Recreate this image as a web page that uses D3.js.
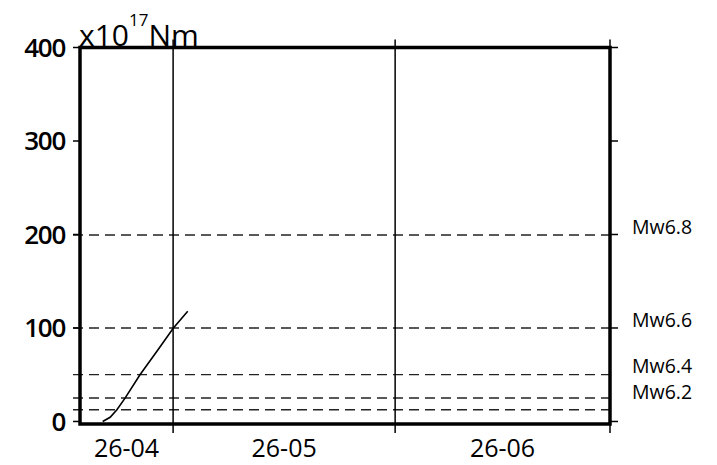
<!DOCTYPE html>
<html>
<head>
<meta charset="utf-8">
<script src="https://cdn.jsdelivr.net/npm/d3@7"></script>
<style>
  html, body { margin: 0; padding: 0; background: #fff; }
  svg { display: block; font-family: "Open Sans", "Noto Sans", sans-serif; }
</style>
</head>
<body>
<svg id="chart" width="717" height="465"></svg>
<script>
// Cumulative seismic moment (x10^17 Nm) over time
const dates = ["2026-04-21T04:00", "2026-04-22T05:00", "2026-04-23T03:00", "2026-04-24T07:00",
               "2026-04-26T09:00", "2026-04-28T22:00", "2026-05-01T01:00", "2026-05-03T01:00"];
const moment = [0, 4.5, 12.3, 25, 50, 77, 100, 118];

// Reference magnitude levels (Mw) drawn as dashed lines
const magnitudes = [6.0, 6.2, 6.4, 6.6, 6.8];
const labelledMagnitudes = [6.2, 6.4, 6.6, 6.8];

const yTicks = [0, 100, 200, 300, 400];
const timeDomain = ["2026-04-18T00:00", "2026-07-01T00:00"];

const parse = d3.isoParse;
const svg = d3.select("#chart");
const mLeft = 80, mRight = 610, mTop = 47.5, mBottom = 424;

const x = d3.scaleTime().domain(timeDomain.map(parse)).range([mLeft, mRight]);
const y = d3.scaleLinear().domain([-2.7, 400]).range([mBottom, mTop]);

// Moment (x10^17 Nm) for a moment magnitude Mw
const momentOf = mw => Math.pow(10, 1.5 * mw + 9.1) / 1e17;

// Month boundaries inside the domain
const months = d3.timeMonth.range(x.domain()[0], d3.timeMonth.offset(x.domain()[1], 1))
  .filter(d => d > x.domain()[0] && d <= x.domain()[1]);

// Dashed magnitude levels
svg.append("g").selectAll("line").data(magnitudes).join("line")
  .attr("x1", mLeft - 7).attr("x2", mRight)
  .attr("y1", d => y(momentOf(d))).attr("y2", d => y(momentOf(d)))
  .attr("stroke", "#222").attr("stroke-width", 1.4).attr("stroke-dasharray", "10,6");

// Level labels; the two lowest sit close together, so nudge them apart slightly
const labelShift = { "6.2": 1.5, "6.4": -1.5 };
svg.append("g").selectAll("text").data(labelledMagnitudes).join("text")
  .attr("x", 632).attr("y", d => y(momentOf(d)) - 0.5 + (labelShift[d.toFixed(1)] || 0))
  .attr("font-size", 19.5).attr("fill", "#000")
  .text(d => "Mw" + d.toFixed(1));

// Month separators with outside ticks top and bottom
svg.append("g").selectAll("line").data(months).join("line")
  .attr("x1", d => x(d)).attr("x2", d => x(d))
  .attr("y1", mTop - 8).attr("y2", mBottom + 9)
  .attr("stroke", "#000").attr("stroke-width", 1.5);

// Month labels centred in each month's span
const spans = [x.domain()[0], ...months];
const fmt = d3.timeFormat("%y-%m");
svg.append("g").selectAll("text").data(spans.slice(0, -1)).join("text")
  .attr("x", (d, i) => (x(d) + x(spans[i + 1])) / 2)
  .attr("y", 457)
  .attr("text-anchor", "middle").attr("font-size", 25).attr("fill", "#000")
  .text(d => fmt(d));

// Y ticks on left and right
svg.append("g").selectAll("line").data(yTicks).join("line")
  .attr("x1", mLeft - 7).attr("x2", mLeft)
  .attr("y1", d => y(d)).attr("y2", d => y(d))
  .attr("stroke", "#000").attr("stroke-width", 1.5);
svg.append("g").selectAll("line").data(yTicks).join("line")
  .attr("x1", mRight).attr("x2", mRight + 8)
  .attr("y1", d => y(d)).attr("y2", d => y(d))
  .attr("stroke", "#000").attr("stroke-width", 1.5);
svg.append("g").selectAll("text").data(yTicks).join("text")
  .attr("x", 65).attr("y", d => y(d)).attr("dy", "0.36em")
  .attr("text-anchor", "end").attr("font-size", 26).attr("font-weight", 600)
  .attr("letter-spacing", -1.3).attr("fill", "#000")
  .text(d => d);

// Cumulative moment curve
const line = d3.line().x(d => x(d[0])).y(d => y(d[1]));
svg.append("path")
  .datum(dates.map((d, i) => [parse(d), moment[i]]))
  .attr("d", line).attr("fill", "none")
  .attr("stroke", "#000").attr("stroke-width", 1.6);

// Frame
svg.append("rect")
  .attr("x", mLeft).attr("y", mTop).attr("width", mRight - mLeft).attr("height", mBottom - mTop)
  .attr("fill", "none").attr("stroke", "#000").attr("stroke-width", 3.5);

// Unit label
const unit = svg.append("text").attr("x", 79).attr("y", 46).attr("font-size", 30).attr("fill", "#000");
unit.append("tspan").text("x10");
unit.append("tspan").attr("font-size", 17).attr("dy", -20).text("17");
unit.append("tspan").attr("dy", 20).text("Nm");
</script>
</body>
</html>
